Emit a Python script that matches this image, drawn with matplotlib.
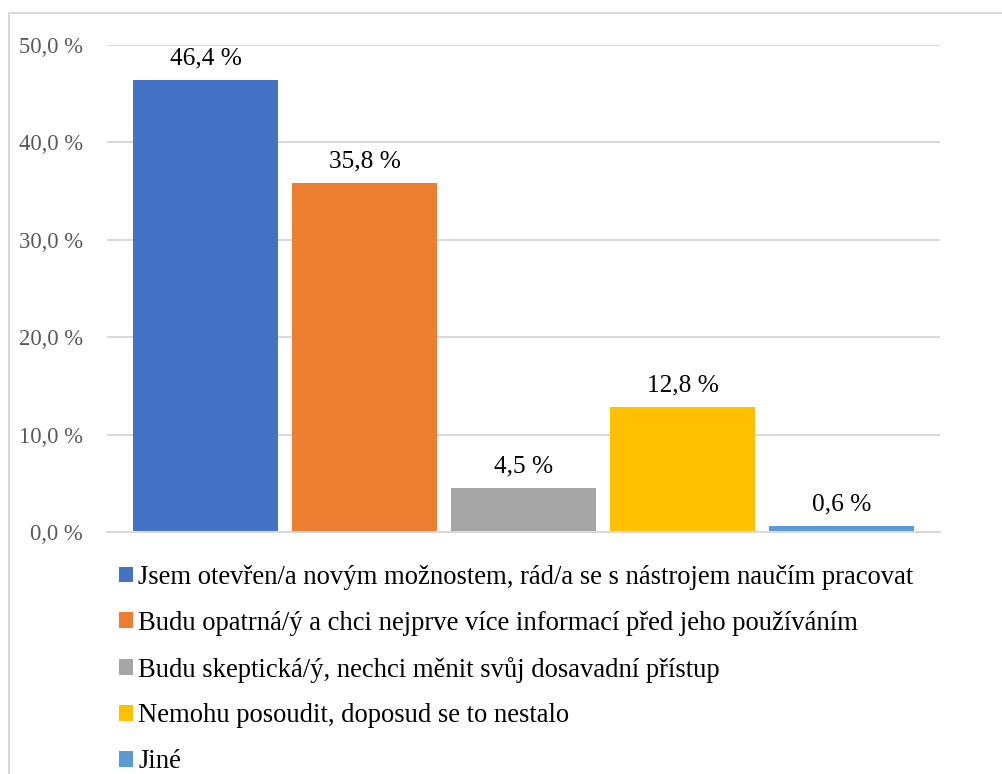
import matplotlib.pyplot as plt
from matplotlib.patches import Patch, Rectangle
from matplotlib.ticker import FuncFormatter

plt.rcParams['font.family'] = ['Liberation Serif', 'DejaVu Serif']

categories = [
    "Jsem otevřen/a novým možnostem, rád/a se s nástrojem naučím pracovat",
    "Budu opatrná/ý a chci nejprve více informací před jeho používáním",
    "Budu skeptická/ý, nechci měnit svůj dosavadní přístup",
    "Nemohu posoudit, doposud se to nestalo",
    "Jiné",
]
values = [46.4, 35.8, 4.5, 12.8, 0.6]
colors = ["#4472C4", "#ED7D31", "#A5A5A5", "#FFC000", "#5B9BD5"]
yticks = [0, 10, 20, 30, 40, 50]

W, H = 1002, 774
fig = plt.figure(figsize=(W / 100, H / 100), dpi=100)

# outer chart border (right/bottom edges fall outside the picture)
fig.patches.append(Rectangle((8.5 / W, -0.05), 1.1, 1 - 12.5 / H + 0.05,
                             transform=fig.transFigure, fill=False,
                             edgecolor="#D9D9D9", linewidth=1.5))

ax = fig.add_axes([107 / W, (H - 532) / H, (940 - 107) / W, (532 - 45) / H])

x = range(len(values))
bars = ax.bar(x, values, width=0.91, color=colors)
ax.bar_label(bars, labels=[f"{v:.1f} %".replace(".", ",") for v in values],
             padding=7.5, fontsize=18.3, color="black")

ax.set_xlim(-0.62, 4.62)
ax.set_ylim(0, 50)
ax.set_yticks(yticks)
ax.yaxis.set_major_formatter(FuncFormatter(lambda v, p: f"{v:.1f} %".replace(".", ",")))
ax.tick_params(axis="y", length=0, pad=17.3, labelsize=16.3, labelcolor="#595959")
ax.set_xticks([])
ax.grid(axis="y", color="#D9D9D9", linewidth=1.5)
ax.set_axisbelow(True)
for s in ["top", "right", "left"]:
    ax.spines[s].set_visible(False)
ax.spines["bottom"].set_color("#D9D9D9")
ax.spines["bottom"].set_linewidth(1.5)

handles = [Patch(facecolor=c, edgecolor="none") for c in colors]
fig.legend(handles, categories, loc="upper left",
           bbox_to_anchor=(119 / W, 1 - 565 / H), frameon=False,
           fontsize=19.2, handlelength=0.53, handleheight=0.53,
           handletextpad=0.2, labelspacing=0.78, borderaxespad=0,
           borderpad=0)

fig.savefig("out.png", dpi=100)
